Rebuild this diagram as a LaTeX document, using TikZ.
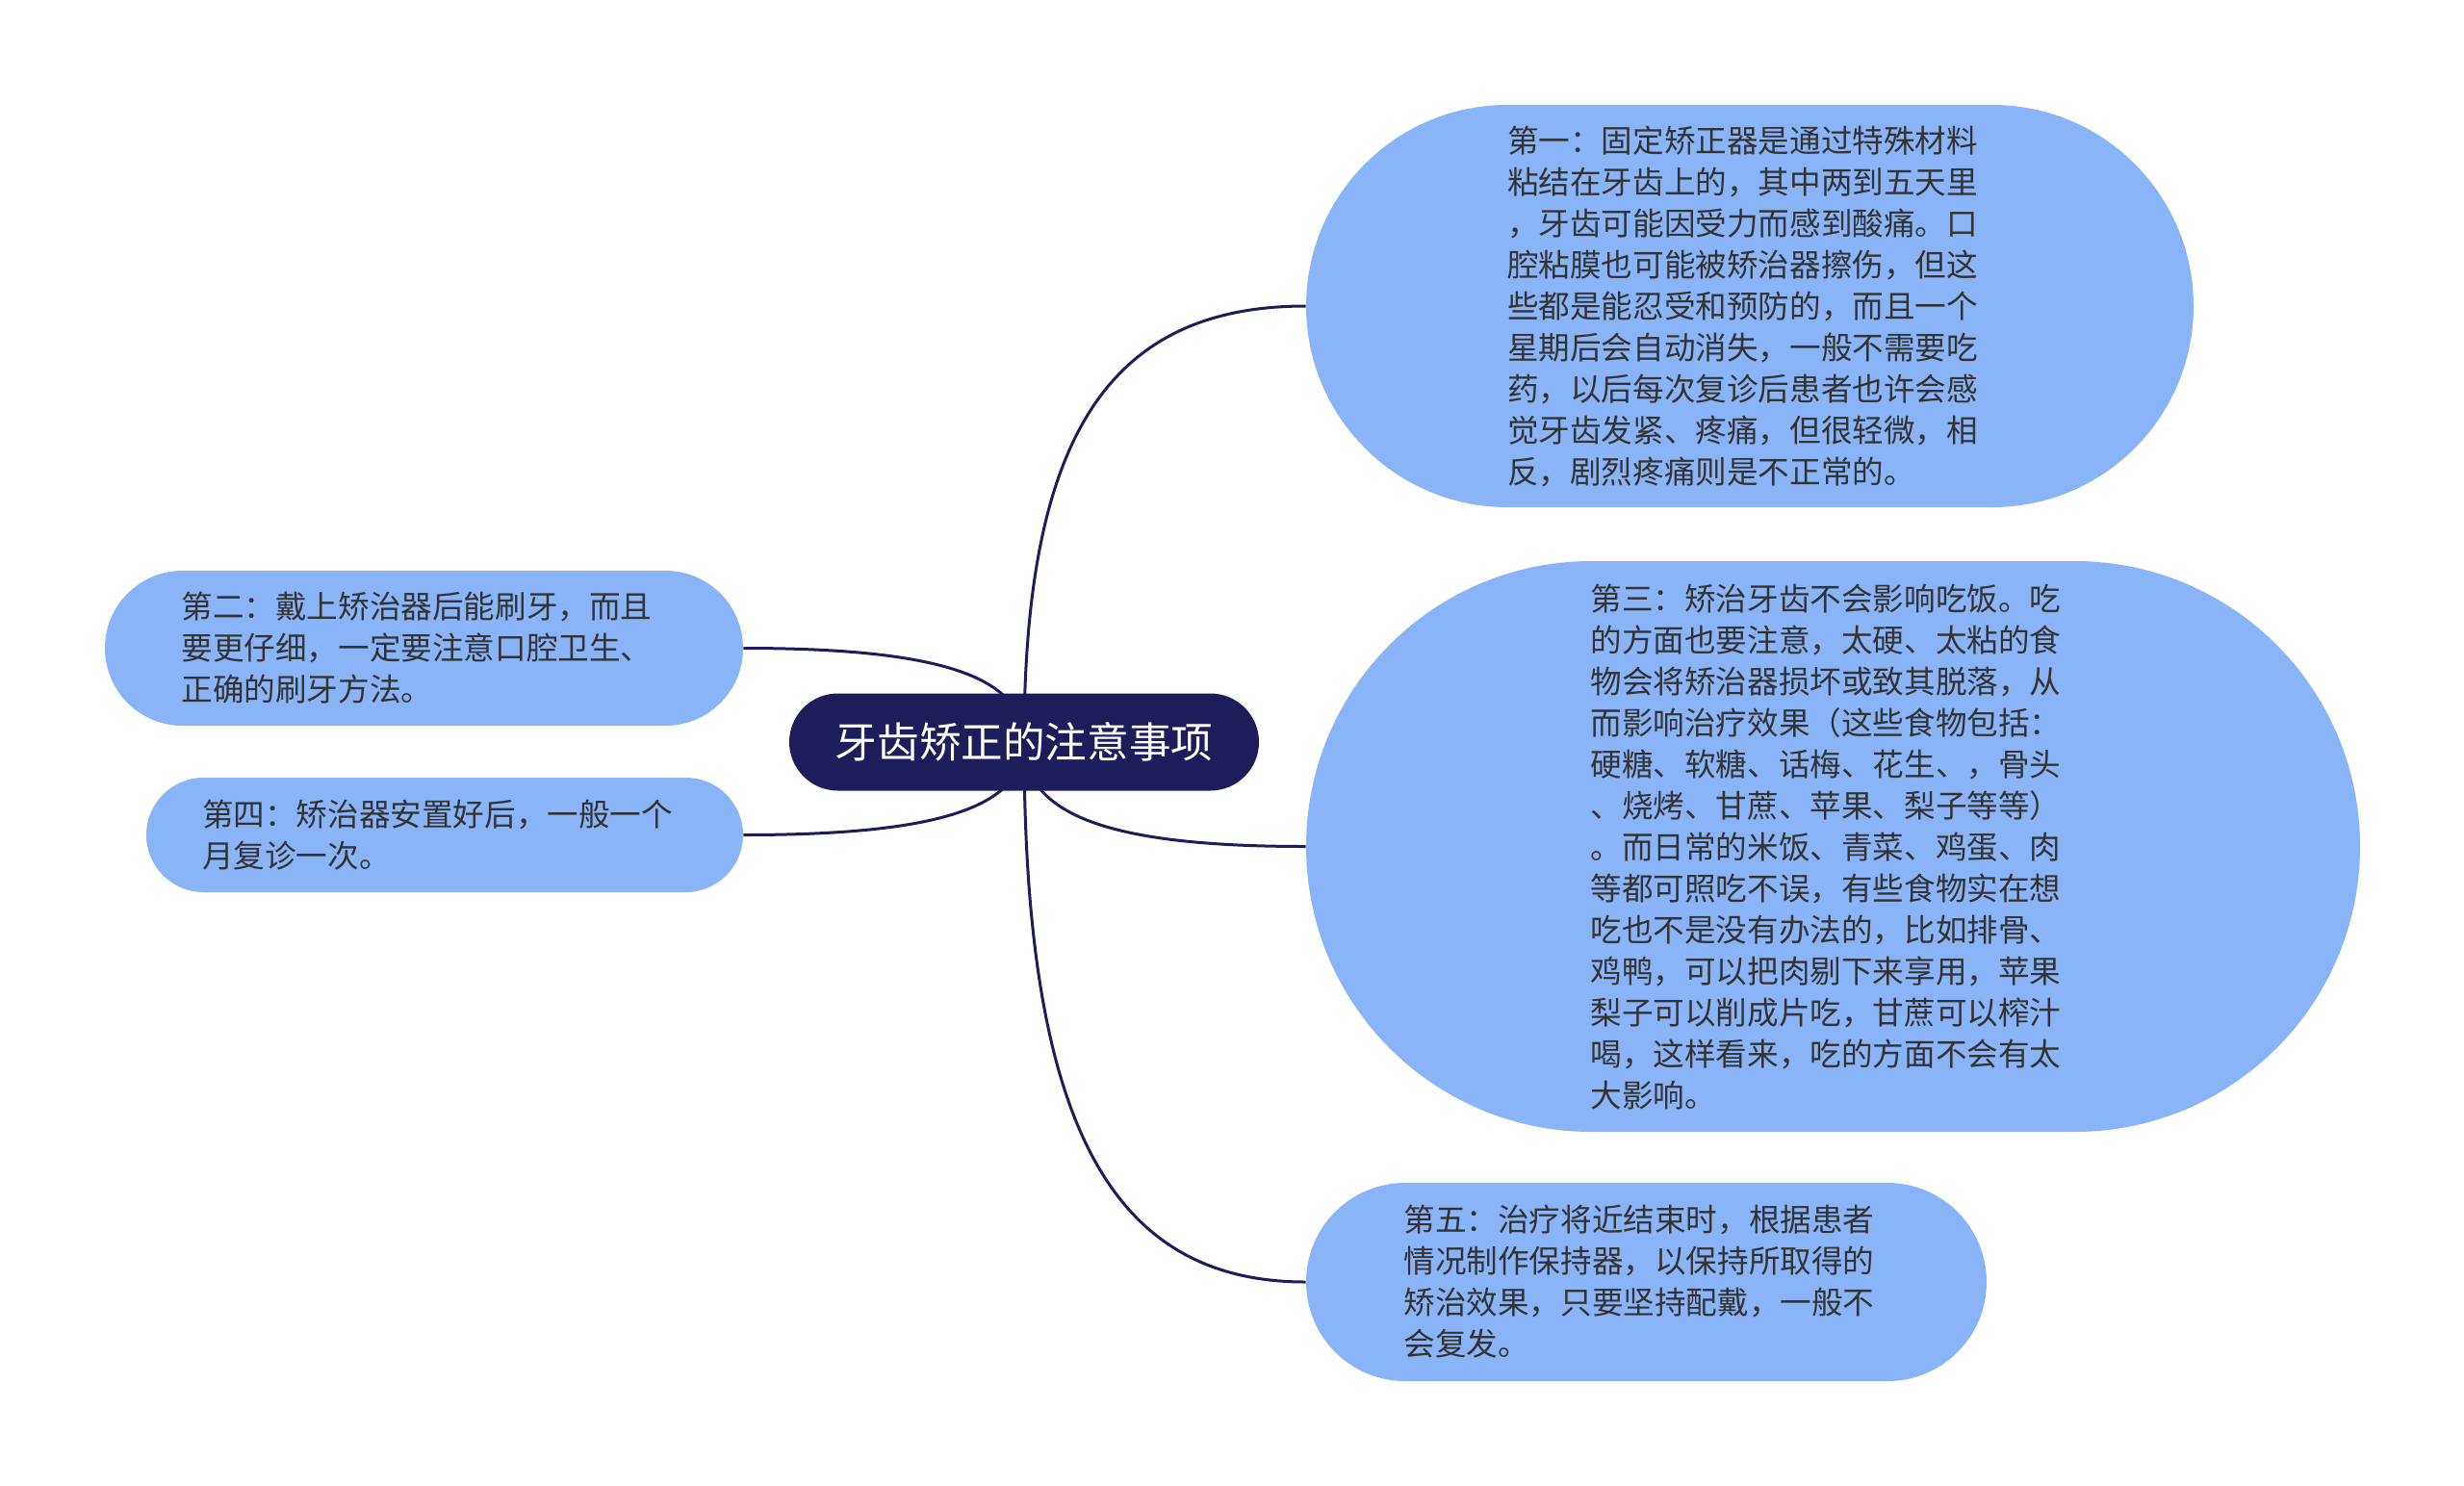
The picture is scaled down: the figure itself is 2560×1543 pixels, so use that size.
\documentclass[tikz,border=0pt]{standalone}
\usepackage{fontspec}
\setmainfont{Noto Sans CJK SC}
\usetikzlibrary{calc,backgrounds}
\definecolor{navy}{HTML}{1E1C5A}
\definecolor{tipblue}{HTML}{8AB4F8}
\definecolor{tiptext}{HTML}{333333}

\begin{document}
\begin{tikzpicture}[x=0.5pt,y=-0.5pt,
    root/.style={fill=navy,text=white,rounded corners=25.25pt,minimum width=244pt,
      minimum height=50.5pt,inner sep=0pt,font=\fontsize{21.8}{26}\selectfont},
    tip/.style={fill=tipblue,text=tiptext,align=left,text width=252pt,inner sep=0pt,
      font=\fontsize{16.3}{21.5}\selectfont},
    link/.style={navy,line width=1.5pt}]
\useasboundingbox (0,0) rectangle (2560,1543);
% centre
\node[root] (c) at (1064,771) {牙齿矫正的注意事项};
% right side
\node[tip,minimum width=461pt,minimum height=209pt,rounded corners=104.5pt] (b1) at (1818,318) {第一：固定矫正器是通过特殊材料\\
粘结在牙齿上的，其中两到五天里\\
，牙齿可能因受力而感到酸痛。口\\
腔粘膜也可能被矫治器擦伤，但这\\
些都是能忍受和预防的，而且一个\\
星期后会自动消失，一般不需要吃\\
药，以后每次复诊后患者也许会感\\
觉牙齿发紧、疼痛，但很轻微，相\\
反，剧烈疼痛则是不正常的。};
\node[tip,minimum width=547.5pt,minimum height=296.5pt,rounded corners=148.25pt] (b3) at (1904.5,879.5) {第三：矫治牙齿不会影响吃饭。吃\\
的方面也要注意，太硬、太粘的食\\
物会将矫治器损坏或致其脱落，从\\
而影响治疗效果（这些食物包括：\\
硬糖、软糖、话梅、花生、，骨头\\
、烧烤、甘蔗、苹果、梨子等等）\\
。而日常的米饭、青菜、鸡蛋、肉\\
等都可照吃不误，有些食物实在想\\
吃也不是没有办法的，比如排骨、\\
鸡鸭，可以把肉剔下来享用，苹果\\
梨子可以削成片吃，甘蔗可以榨汁\\
喝，这样看来，吃的方面不会有太\\
大影响。};
\node[tip,minimum width=353.5pt,minimum height=103pt,rounded corners=51.5pt] (b5) at (1710.5,1332) {第五：治疗将近结束时，根据患者\\
情况制作保持器，以保持所取得的\\
矫治效果，只要坚持配戴，一般不\\
会复发。};
% left side
\node[tip,minimum width=331.5pt,minimum height=80.5pt,rounded corners=40.25pt] (b2) at (440.5,673.5) {第二：戴上矫治器后能刷牙，而且\\
要更仔细，一定要注意口腔卫生、\\
正确的刷牙方法。};
\node[tip,minimum width=310pt,minimum height=59.5pt,rounded corners=29.75pt] (b4) at (462,867.5) {第四：矫治器安置好后，一般一个\\
月复诊一次。};
% links behind the boxes
\begin{scope}[on background layer]
\fill[white] (0,0) rectangle (2560,1543);
\foreach \t/\a in {b1/west,b3/west,b5/west,b2/east,b4/east}
  \draw[link] (c.center) .. controls ($(c.center)!0.7!(c.center|-\t.\a)$) and ($(\t.\a)!0.7!(c.center|-\t.\a)$) .. (\t.\a);
\end{scope}
\end{tikzpicture}
\end{document}
